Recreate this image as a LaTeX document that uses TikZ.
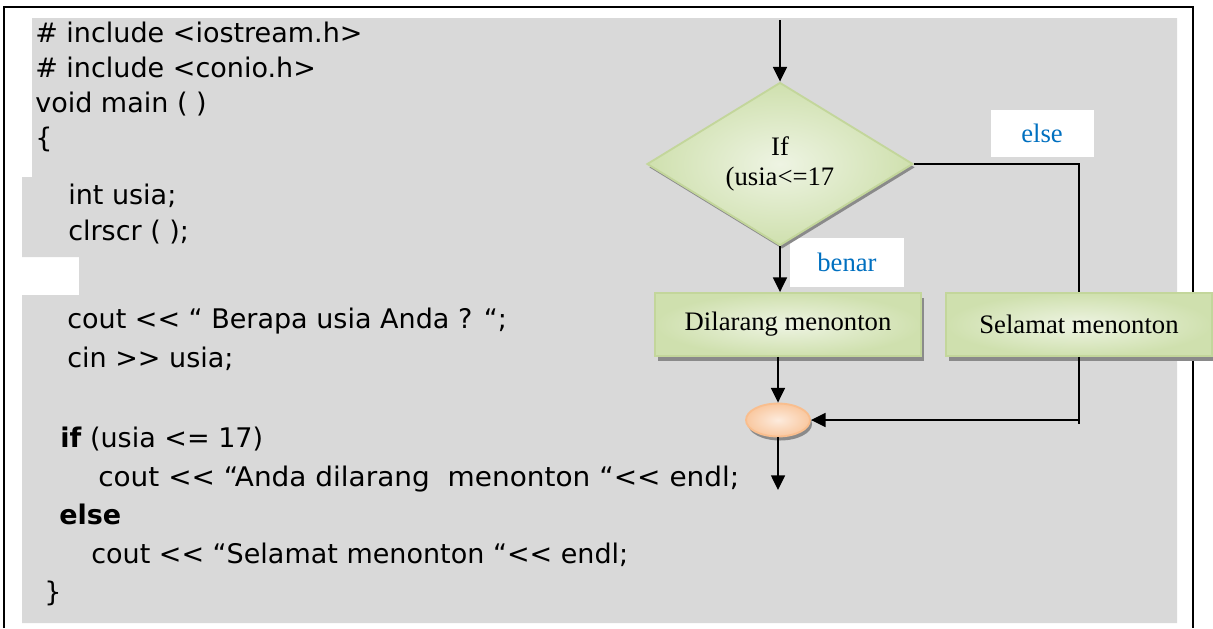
\documentclass[tikz,border=0pt]{standalone}
\usepackage{fontspec}
\setmainfont{Liberation Serif}
\newfontfamily\codefont{DejaVu Sans}
\usetikzlibrary{shapes.geometric,arrows.meta,shadows}
\definecolor{bggray}{HTML}{D9D9D9}
\definecolor{gbord}{HTML}{C3D69B}
\definecolor{glight}{HTML}{EEF4E3}
\definecolor{gdark}{HTML}{CFE0AE}
\definecolor{obord}{HTML}{F9BE8E}
\definecolor{olight}{HTML}{FDEBDD}
\definecolor{odark}{HTML}{F9C8A0}
\definecolor{lblblue}{HTML}{0070C0}
\definecolor{shadowgray}{HTML}{8A8A8A}
\newcommand\LLt{<\kern0pt<}
\newcommand\GGt{>\kern0pt>}
\tikzset{
  code/.style={anchor=base west,inner sep=0pt,font=\codefont\fontsize{20.25pt}{24pt}\selectfont},
  gbox/.style={draw=gbord,line width=1.4pt,inner color=glight,outer color=gdark,
    minimum width=199.5pt,minimum height=47.25pt,inner sep=0pt,
    font=\fontsize{20pt}{22.5pt}\selectfont,
    drop shadow={shadow xshift=2.25pt,shadow yshift=-3.5pt,fill=shadowgray,opacity=1}},
  decision/.style={diamond,draw=gbord,line width=1.4pt,inner color=glight,outer color=gdark,
    minimum width=199.5pt,minimum height=114.75pt,inner sep=0pt,align=center,
    font=\fontsize{20pt}{22.5pt}\selectfont,
    drop shadow={shadow xshift=1.5pt,shadow yshift=-2.5pt,fill=shadowgray,opacity=1}},
  joint/.style={ellipse,draw=obord,line width=1.4pt,inner color=olight,outer color=odark,
    minimum width=48pt,minimum height=24.75pt,inner sep=0pt,
    drop shadow={shadow xshift=1.5pt,shadow yshift=-3pt,fill=shadowgray,opacity=1}},
  lbl/.style={fill=white,text=lblblue,inner sep=0pt,font=\fontsize{20pt}{22.5pt}\selectfont},
  conn/.style={line width=1.1pt,draw=black},
  arr/.style={conn,-{Triangle[width=10.5pt,length=11pt]}},
  frame/.style={line width=1.6pt,draw=black}
}
\begin{document}
\begin{tikzpicture}[x=0.75pt,y=-0.75pt]
\useasboundingbox (0,0) rectangle (1213,628);
\fill[white] (0,0) rectangle (1213,628);
% gray background
\fill[bggray] (32,18) -- (1177,18) -- (1177,623) -- (22,623) -- (22,295) -- (79,295)
  -- (79,257) -- (22,257) -- (22,177) -- (32,177) -- cycle;
% frame
\draw[frame] (4,628) -- (4,7) -- (1193,7) -- (1193,628);
% code
\node[code] (c1) at (35,42) {\# include <iostream.h>};
\node[code] (c2) at (35,77) {\# include <conio.h>};
\node[code] (c3) at (35,112) {void main ( )};
\node[code] (c4) at (35,147) {\{};
\node[code] (c5) at (68,204) {int usia;};
\node[code] (c6) at (68,240) {clrscr ( );};
\node[code] (c8) at (67,328) {cout \LLt{} “ Berapa usia Anda ? “;};
\node[code] (c9) at (67,367) {cin \GGt{} usia;};
\node[code] (c11) at (60,447) {\textbf{if} (usia <= 17)};
\node[code] (c12) at (98,486) {\scalebox{1.035}[1]{cout \LLt{} “Anda dilarang\ \ menonton “\LLt{} endl;}};
\node[code] (c13) at (59,524) {\textbf{else}};
\node[code] (c14) at (91,563) {cout \LLt{} “Selamat menonton “\LLt{} endl;};
\node[code] (c15) at (44,601) {\}};
% flowchart
\node[lbl,minimum width=77.25pt,minimum height=35.25pt] (lelse) at (1042,133.5) {else};
\node[lbl,minimum width=85.5pt,minimum height=36.75pt] (lbenar) at (847,262.5) {benar};
\node[decision] (if) at (780,164) {If\\(usia<=17};
\node[gbox] (dil) at (788,324.5) {Dilarang menonton};
\node[gbox] (sel) at (1079,324.5) {Selamat menonton};
\node[joint] (ell) at (778,420) {};
\coordinate (start) at (780,20);
\coordinate (finish) at (778,490);
\draw[arr] (start) -- (if.north);
\draw[arr] (if.south) -- (if.south |- dil.north);
\draw[conn] (if.east) -| (sel.north);
\draw[arr] (ell.north |- dil.south) -- (ell.north);
\draw[conn] (sel.south) -- ([yshift=-3pt]sel.south |- ell.east);
\draw[arr] (sel.south |- ell.east) -- (ell.east);
\draw[arr] (ell.south) -- (finish);
\end{tikzpicture}
\end{document}
